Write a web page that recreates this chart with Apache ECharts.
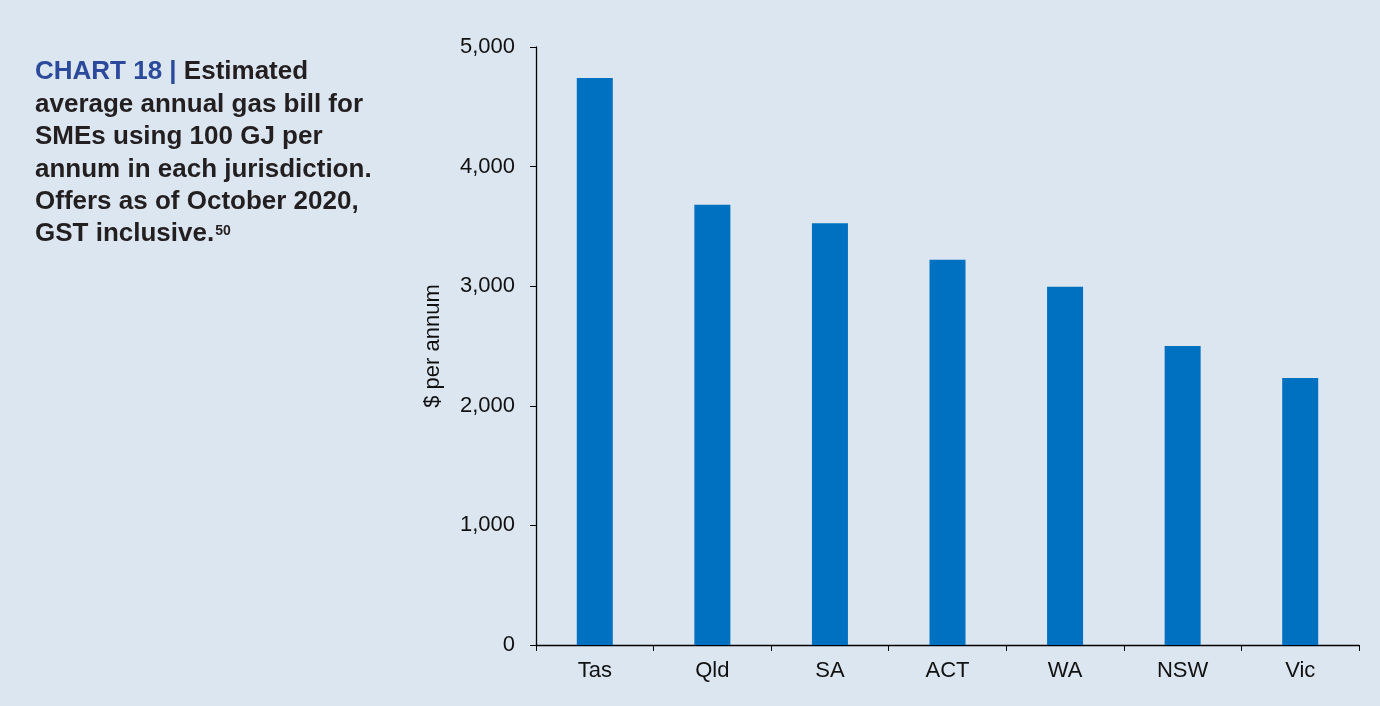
<!DOCTYPE html>
<html><head><meta charset="utf-8">
<script src="https://cdn.jsdelivr.net/npm/echarts@6/dist/echarts.min.js"></script>
<style>html,body{margin:0;padding:0;background:#dce6f0;}#c{width:1380px;height:706px;}</style>
</head><body><div id="c"></div>
<script>
const categories = ['Tas', 'Qld', 'SA', 'ACT', 'WA', 'NSW', 'Vic'];
const billValues = [4740, 3682, 3527, 3222, 2995, 2500, 2233];
const yTicks = [0, 1000, 2000, 3000, 4000, 5000];

const FONT = '"Liberation Sans", Arial, Helvetica, sans-serif';
const chart = echarts.init(document.getElementById('c'), null, {renderer: 'canvas'});
chart.setOption({
  backgroundColor: '#dce6f0',
  animation: false,
  title: {
    left: 30, top: 51,
    text: '{blue|CHART 18 | }{b|Estimated}\n{b|average annual gas bill for}\n{b|SMEs using 100 GJ per}\n{b|annum in each jurisdiction.}\n{b|Offers as of October 2020,}\n{b|GST inclusive.}{sup|50}',
    textStyle: {
      rich: {
        blue: {fontFamily: FONT, fontSize: 26, fontWeight: 'bold', color: '#2b4a9b', lineHeight: 32.4},
        b: {fontFamily: FONT, fontSize: 26, fontWeight: 'bold', color: '#231f20', lineHeight: 32.4},
        sup: {fontFamily: FONT, fontSize: 14, fontWeight: 'bold', color: '#231f20', verticalAlign: 'middle', padding: [0,0,6,1], lineHeight: 16}
      }
    }
  },
  grid: {left: 536, right: 21, top: 47, bottom: 61, containLabel: false},
  xAxis: {
    type: 'category', data: categories,
    axisLine: {lineStyle: {color: '#000', width: 1.3}},
    axisTick: {show: true, alignWithLabel: false, length: 6, lineStyle: {color: '#000'}},
    axisLabel: {color: '#111', fontFamily: FONT, fontSize: 22, margin: 15}
  },
  yAxis: {
    type: 'value', min: yTicks[0], max: yTicks[yTicks.length - 1], interval: 1000,
    name: '$ per annum', nameLocation: 'middle', nameGap: 92,
    nameTextStyle: {color: '#111', fontFamily: FONT, fontSize: 22},
    axisLine: {show: true, lineStyle: {color: '#000', width: 1.3}},
    axisTick: {show: true, length: 6, lineStyle: {color: '#000'}},
    splitLine: {show: false},
    axisLabel: {color: '#111', fontFamily: FONT, fontSize: 22, margin: 21,
      formatter: v => v.toLocaleString('en-US')}
  },
  series: [{
    type: 'bar', data: billValues, barWidth: 36,
    itemStyle: {color: '#0070c0'}
  }]
});
</script></body></html>
